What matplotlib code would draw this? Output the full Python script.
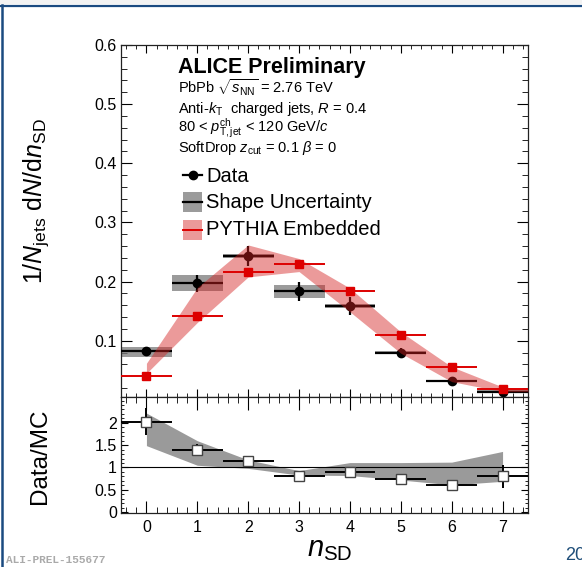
import numpy as np
import matplotlib
matplotlib.use("Agg")
import matplotlib.pyplot as plt
from matplotlib.patches import Rectangle
from matplotlib.lines import Line2D
from matplotlib.ticker import MultipleLocator, FixedLocator, FuncFormatter

plt.rcParams["font.family"] = ["Liberation Sans", "DejaVu Sans"]
plt.rcParams["mathtext.fontset"] = "custom"
plt.rcParams["mathtext.rm"] = "Liberation Sans"
plt.rcParams["mathtext.it"] = "Liberation Sans:italic"
plt.rcParams["mathtext.bf"] = "Liberation Sans:bold"

# values
n_sd = np.arange(8)
data = np.array([0.082, 0.197, 0.243, 0.184, 0.159, 0.080, 0.0326, 0.014])
data_err = np.array([0.008, 0.015, 0.017, 0.016, 0.015, 0.008, 0.004, 0.003])
syst_lo = np.array([0.073, 0.184, 0.240, 0.173, 0.156, 0.077, 0.031, 0.012])
syst_hi = np.array([0.090, 0.211, 0.246, 0.194, 0.162, 0.083, 0.034, 0.016])
pythia = np.array([0.041, 0.142, 0.216, 0.229, 0.184, 0.110, 0.056, 0.0186])
band_x = [0, 1, 2, 3, 4, 5, 6, 7, 7.5]
band_lo = [0.045, 0.131, 0.208, 0.217, 0.149, 0.079, 0.031, 0.014, 0.014]
band_hi = [0.062, 0.190, 0.262, 0.239, 0.189, 0.115, 0.056, 0.022, 0.018]
ratio = np.array([2.03, 1.40, 1.15, 0.82, 0.89, 0.74, 0.60, 0.80])
ratio_err = np.array([0.30, 0.13, 0.04, 0.03, 0.03, 0.04, 0.07, 0.25])
ratio_lo = [1.49, 1.05, 0.98, 0.83, 0.82, 0.72, 0.61, 0.69]
ratio_hi = [2.22, 1.60, 1.17, 0.93, 1.11, 1.11, 1.12, 1.36]
ratio_ticks = [0, 0.5, 1, 1.5, 2]

W, H = 582, 567
fig = plt.figure(figsize=(W / 100, H / 100), dpi=100)
fig.patch.set_facecolor("white")

ax = fig.add_axes([121 / W, 1 - 397 / H, 407 / W, 352 / H])
rax = fig.add_axes([121 / W, 1 - 513 / H, 407 / W, 116 / H])

red = "#dd0000"

# main panel
ax.bar(n_sd, syst_hi - syst_lo, bottom=syst_lo, width=1.0, color="#7a7a7a",
       alpha=0.75, lw=0, zorder=2)
ax.errorbar(n_sd, data, yerr=data_err, xerr=0.5, fmt="o", color="black",
            ms=6, lw=1.6, capsize=0, zorder=3)
ax.fill_between(band_x, band_lo, band_hi, color="#d42020", alpha=0.45, lw=0,
                zorder=4)
ax.errorbar(n_sd, pythia, xerr=0.5, fmt="s", color=red, ms=5.5, lw=1.4,
            capsize=0, zorder=5)

ax.set_xlim(-0.5, 7.5)
ax.set_ylim(0.005, 0.6)
ax.xaxis.set_major_locator(MultipleLocator(1))
ax.xaxis.set_minor_locator(MultipleLocator(0.2))
ax.yaxis.set_major_locator(MultipleLocator(0.1))
ax.yaxis.set_minor_locator(MultipleLocator(0.02))
ax.tick_params(axis="x", labelbottom=False)
ax.tick_params(direction="in", which="both", top=True, right=True,
               labelsize=11.5, pad=3)
ax.tick_params(axis="y", which="major", length=8)
ax.tick_params(axis="y", which="minor", length=4)
ax.tick_params(axis="x", which="major", length=6)
ax.tick_params(axis="x", which="minor", length=3)
ax.yaxis.set_major_formatter(FuncFormatter(lambda v, p: "%.1f" % v))

# text block
tx = (178 - 121) / 407
def yb(py):
    return (397 - py) / 352

ax.text(tx, yb(73), "ALICE Preliminary", transform=ax.transAxes,
        fontsize=15.5, weight="bold", va="baseline")
lines = [r"PbPb $\sqrt{s_{\rm NN}}$ = 2.76 TeV",
         r"Anti-$k_{\rm T}$  charged jets, $R$ = 0.4",
         r"80 < $p_{\rm T,jet}^{\rm ch}$ < 120 GeV/$c$",
         r"SoftDrop $z_{\rm cut}$ = 0.1 $\beta$ = 0"]
for s, py in zip(lines, [93, 113, 132, 152]):
    ax.text(tx, yb(py), s, transform=ax.transAxes, fontsize=10.5,
            va="baseline")

# legend drawn by hand
lx0, lx1 = (183 - 121) / 407, (202 - 121) / 407
ax.add_line(Line2D([lx0, lx1], [yb(175)] * 2, color="black", lw=1.6,
                   transform=ax.transAxes))
ax.add_line(Line2D([(lx0 + lx1) / 2], [yb(175)], marker="o", ms=6,
                   color="black", transform=ax.transAxes))
ax.add_patch(Rectangle((lx0, yb(212)), lx1 - lx0, yb(192) - yb(212),
                       transform=ax.transAxes, color="#7a7a7a", alpha=0.75,
                       lw=0))
ax.add_line(Line2D([lx0, lx1], [yb(202)] * 2, color="black", lw=1.6,
                   transform=ax.transAxes))
ax.add_patch(Rectangle((lx0, yb(240)), lx1 - lx0, yb(220) - yb(240),
                       transform=ax.transAxes, color="#d42020", alpha=0.45,
                       lw=0))
ax.add_line(Line2D([lx0, lx1], [yb(230)] * 2, color=red, lw=1.4,
                   transform=ax.transAxes))
for s, py in zip(["Data", "Shape Uncertainty", "PYTHIA Embedded"],
                 [182, 208, 235]):
    ax.text((206 - 121) / 407, yb(py), s, transform=ax.transAxes,
            fontsize=14.5, va="baseline")

# ratio panel
rax.fill_between(n_sd, ratio_lo, ratio_hi, color="#9a9a9a", lw=0, zorder=1)
rax.axhline(1, color="black", lw=0.8, zorder=2)
rax.errorbar(n_sd, ratio, yerr=ratio_err, xerr=0.5, fmt="s", color="black",
             mfc="white", mec="#444444", ms=6.5, lw=1.4, capsize=0, zorder=3)
rax.set_xlim(-0.5, 7.5)
rax.set_ylim(-0.02, 2.58)
rax.xaxis.set_major_locator(MultipleLocator(1))
rax.xaxis.set_minor_locator(MultipleLocator(0.2))
rax.yaxis.set_major_locator(FixedLocator(ratio_ticks))
rax.yaxis.set_minor_locator(MultipleLocator(0.1))
rax.yaxis.set_major_formatter(FuncFormatter(lambda v, p: "%g" % v))
rax.tick_params(direction="in", which="both", top=True, right=True,
                labelsize=11.5, pad=3)
rax.tick_params(axis="x", which="major", length=9, pad=5)
rax.tick_params(axis="x", which="minor", length=4.5)
rax.tick_params(axis="y", which="major", length=5)
rax.tick_params(axis="y", which="minor", length=2.5)

for a in (ax, rax):
    for sp in a.spines.values():
        sp.set_linewidth(0.9)
        sp.set_color("#222222")

# axis titles
fig.text(36 / W, 1 - 201 / H, r"1/$N_{\rm jets}$ d$N$/d$n_{\rm SD}$",
         rotation=90, ha="center", va="center", fontsize=18)
fig.text(40 / W, 1 - 456 / H, "Data/MC", rotation=90, ha="center",
         va="center", fontsize=17.5)
fig.text(330 / W, 1 - 549 / H, r"$n_{\rm SD}$", ha="center", va="center",
         fontsize=21)

# slide decorations
fig.add_artist(Rectangle((0, 1 - 4 / H), 1, 4 / H, transform=fig.transFigure,
                         color="#f2f2f2", lw=0))
fig.add_artist(Line2D([0, 1], [1 - 5.5 / H] * 2, transform=fig.transFigure,
                      color="#1a4a80", lw=1.6))
fig.add_artist(Line2D([2 / W] * 2, [0, 1 - 5 / H], transform=fig.transFigure,
                      color="#1a4a80", lw=1.8))
fig.text(6 / W, 1 - 560 / H, "ALI-PREL-155677", family="Liberation Mono",
         fontsize=8, weight="bold", color="#aaaaaa", va="center")
fig.text(565 / W, 1 - 555 / H, "20", fontsize=13, color="#1f4e79",
         va="center")

fig.savefig("out.png", dpi=100)
